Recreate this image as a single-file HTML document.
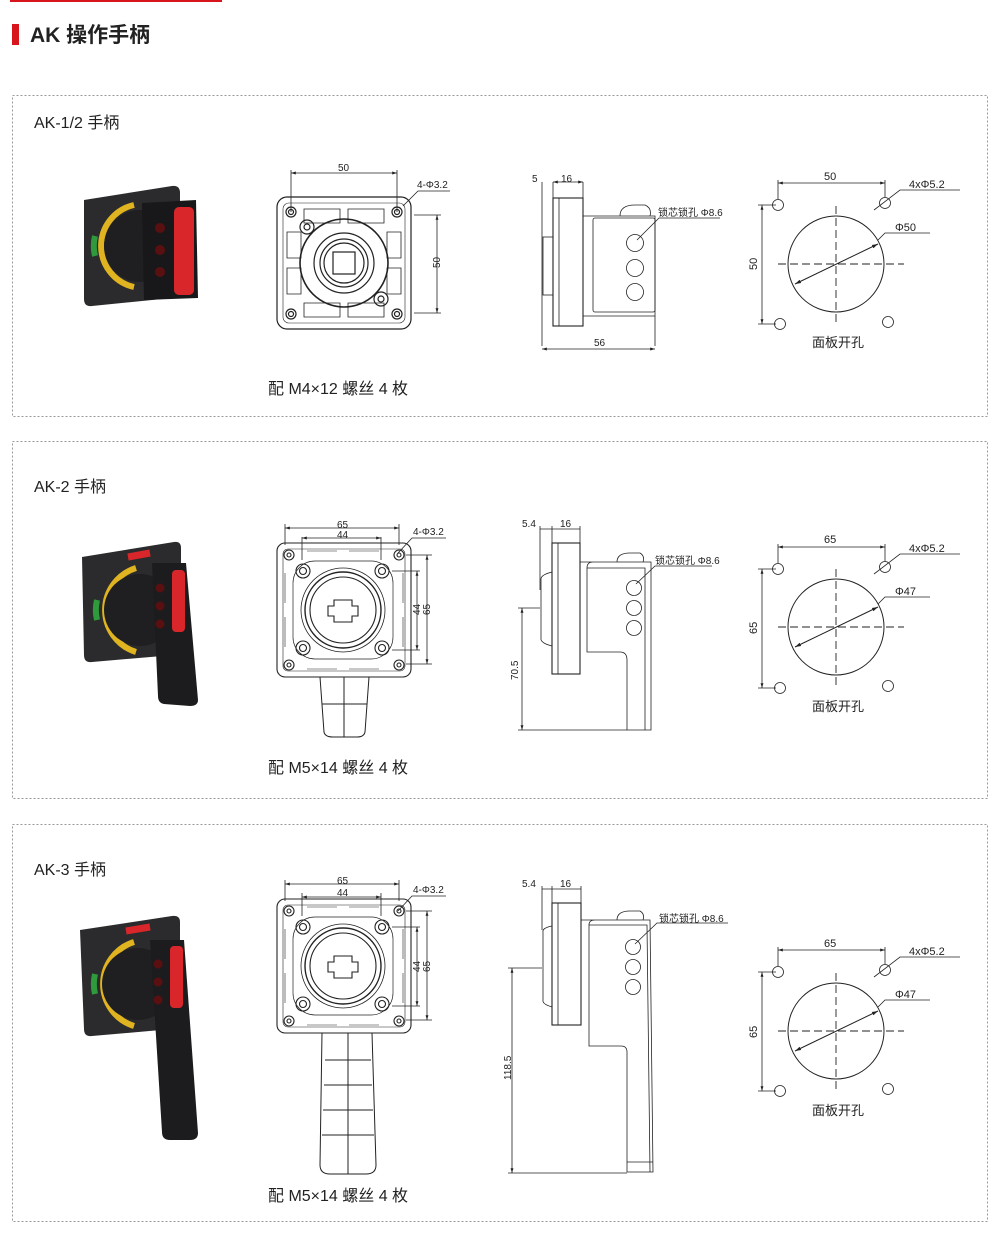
<!DOCTYPE html>
<html><head><meta charset="utf-8"><style>
html,body{margin:0;padding:0;background:#fff}
svg{display:block}
text{font-family:"Liberation Sans","Noto Sans CJK SC",sans-serif;fill:#222}
</style></head><body>
<svg width="1000" height="1248" viewBox="0 0 1000 1248" xmlns="http://www.w3.org/2000/svg">
<defs>
<marker id="a" viewBox="0 0 10 10" refX="10" refY="5" markerWidth="6" markerHeight="6" orient="auto-start-reverse"><path d="M0,2 L10,5 L0,8z" fill="#222"/></marker>
<g id="plate50" fill="none" stroke="#222" stroke-width="1.2">
<rect x="0" y="0" width="134" height="132" rx="10"/>
<rect x="6" y="6" width="122" height="120" rx="6" stroke-width="0.6"/>
<circle cx="14" cy="15" r="5"/><circle cx="14" cy="15" r="2.5"/>
<circle cx="120" cy="15" r="5"/><circle cx="120" cy="15" r="2.5"/>
<circle cx="14" cy="117" r="5"/><circle cx="14" cy="117" r="2.5"/>
<circle cx="120" cy="117" r="5"/><circle cx="120" cy="117" r="2.5"/>
<path d="M27,12 h36 v14 h-36z M71,12 h36 v14 h-36z M27,106 h36 v14 h-36z M71,106 h36 v14 h-36z M10,35 h14 v26 h-14z M10,71 h14 v26 h-14z M110,35 h14 v26 h-14z M110,71 h14 v26 h-14z" stroke-width="0.8"/>
<circle cx="67" cy="66" r="44" stroke-width="1.6"/>
<circle cx="67" cy="66" r="30"/><circle cx="67" cy="66" r="24"/><circle cx="67" cy="66" r="20"/>
<rect x="56" y="55" width="22" height="22"/>
<circle cx="30" cy="30" r="7"/><circle cx="30" cy="30" r="3"/>
<circle cx="104" cy="102" r="7"/><circle cx="104" cy="102" r="3"/>
</g>
<g id="plate65" fill="none" stroke="#222" stroke-width="1.1">
<rect x="0" y="0" width="134" height="134" rx="8"/>
<rect x="6" y="6" width="122" height="122" rx="5" stroke-width="0.6"/>
<circle cx="12" cy="12" r="5"/><circle cx="12" cy="12" r="2"/>
<circle cx="122" cy="12" r="5"/><circle cx="122" cy="12" r="2"/>
<circle cx="12" cy="122" r="5"/><circle cx="12" cy="122" r="2"/>
<circle cx="122" cy="122" r="5"/><circle cx="122" cy="122" r="2"/>
<circle cx="26" cy="28" r="7"/><circle cx="26" cy="28" r="3.5"/>
<circle cx="105" cy="28" r="7"/><circle cx="105" cy="28" r="3.5"/>
<circle cx="26" cy="105" r="7"/><circle cx="26" cy="105" r="3.5"/>
<circle cx="105" cy="105" r="7"/><circle cx="105" cy="105" r="3.5"/>
<rect x="16" y="18" width="100" height="98" rx="22" stroke-width="0.7"/>
<circle cx="66" cy="67" r="42" stroke-width="0.8"/>
<circle cx="66" cy="67" r="38" stroke-width="1.4"/>
<circle cx="66" cy="67" r="33"/>
<path d="M57,57 h18 v6 h6 v10 h-6 v6 h-18 v-6 h-6 v-10 h6z"/>
<path d="M30,8 h30 M72,8 h30 M30,126 h30 M72,126 h30 M8,30 v30 M8,74 v30 M126,30 v30 M126,74 v30" stroke-width="0.6"/>
</g>
<g id="cut" fill="none" stroke="#222" stroke-width="1">
<circle cx="0" cy="0" r="48"/>
<path d="M-58,0 H68 M0,-58 V58" stroke-dasharray="8,4" stroke-width="0.9"/>
<line x1="-41" y1="20" x2="42" y2="-20" marker-start="url(#a)" marker-end="url(#a)"/>
</g>
</defs>

<rect x="10" y="0" width="212" height="2" fill="#d8141c"/>
<rect x="12" y="24" width="7" height="21" fill="#d8141c"/>
<text x="30" y="42" font-size="21" font-weight="bold" fill="#111">AK 操作手柄</text>

<g fill="none" stroke="#999" stroke-dasharray="2,2" stroke-width="1">
<rect x="12.5" y="95.5" width="975" height="321"/>
<rect x="12.5" y="441.5" width="975" height="357"/>
<rect x="12.5" y="824.5" width="975" height="397"/>
</g>

<text x="34" y="128" font-size="16">AK-1/2 手柄</text>
<text x="34" y="492" font-size="16">AK-2 手柄</text>
<text x="34" y="875" font-size="16">AK-3 手柄</text>
<text x="268" y="394" font-size="16">配 M4×12 螺丝 4 枚</text>
<text x="268" y="773" font-size="16">配 M5×14 螺丝 4 枚</text>
<text x="268" y="1201" font-size="16">配 M5×14 螺丝 4 枚</text>

<!-- Photo 1 -->
<g>
<path d="M84,200 L172,186 Q180,185 180,193 L180,290 Q180,297 172,298 L92,306 Q84,307 84,299z" fill="#2b2b2d"/>
<path d="M134,205 A42,42 0 0 0 134,287" fill="none" stroke="#e0b320" stroke-width="6"/>
<path d="M95,236 A42,42 0 0 0 95,256" fill="none" stroke="#2e9a3c" stroke-width="6"/>
<circle cx="140" cy="246" r="36" fill="#1f1f21"/>
<path d="M142,203 L196,200 L198,298 L144,300z" fill="#18181a"/>
<rect x="174" y="207" width="20" height="88" rx="5" fill="#d9262a"/>
<circle cx="160" cy="228" r="5" fill="#5a1010"/><circle cx="160" cy="250" r="5" fill="#5a1010"/><circle cx="160" cy="272" r="5" fill="#5a1010"/>
</g>
<!-- Photo 2 -->
<g>
<path d="M82,557 L174,542 Q181,541 181,548 L181,648 Q181,654 174,655 L92,662 Q84,663 84,655z" fill="#2b2b2d"/>
<path d="M136,568 A44,44 0 0 0 136,652" fill="none" stroke="#e0b320" stroke-width="6"/>
<path d="M97,600 A44,44 0 0 0 97,620" fill="none" stroke="#2e9a3c" stroke-width="6"/>
<path d="M128,557 L150,553" stroke="#d9262a" stroke-width="7"/>
<circle cx="140" cy="610" r="36" fill="#1f1f21"/>
<path d="M152,563 L186,563 L198,700 Q198,706 190,706 L164,704 Q158,703 158,696z" fill="#1c1c1e"/>
<rect x="172" y="570" width="13" height="62" rx="4" fill="#d9262a"/>
<circle cx="160" cy="588" r="4.5" fill="#5a1010"/><circle cx="160" cy="606" r="4.5" fill="#5a1010"/><circle cx="160" cy="624" r="4.5" fill="#5a1010"/>
</g>
<!-- Photo 3 -->
<g>
<path d="M80,930 L172,916 Q180,915 180,922 L180,1022 Q180,1028 172,1029 L92,1036 Q84,1037 84,1029z" fill="#2b2b2d"/>
<path d="M134,942 A44,44 0 0 0 134,1026" fill="none" stroke="#e0b320" stroke-width="6"/>
<path d="M95,974 A44,44 0 0 0 95,994" fill="none" stroke="#2e9a3c" stroke-width="6"/>
<path d="M126,931 L150,927" stroke="#d9262a" stroke-width="7"/>
<circle cx="138" cy="984" r="36" fill="#1f1f21"/>
<path d="M150,940 L184,940 L198,1133 Q198,1140 190,1140 L170,1140 Q162,1140 162,1132z" fill="#1c1c1e"/>
<rect x="170" y="946" width="13" height="62" rx="4" fill="#d9262a"/>
<circle cx="158" cy="964" r="4.5" fill="#5a1010"/><circle cx="158" cy="982" r="4.5" fill="#5a1010"/><circle cx="158" cy="1000" r="4.5" fill="#5a1010"/>
</g>

<g stroke="#222" stroke-width="0.8" fill="none">
<use href="#plate50" x="277" y="197"/>
<path d="M291,212 V170 M397,212 V170 M414,215 H441 M414,313 H441"/>
<line x1="291" y1="173" x2="397" y2="173" marker-start="url(#a)" marker-end="url(#a)"/>
<line x1="437" y1="215" x2="437" y2="313" marker-start="url(#a)" marker-end="url(#a)"/>
<path d="M450,191 H418 L403,206"/>
<rect x="553" y="198" width="30" height="128" stroke-width="1.1"/>
<line x1="559" y1="198" x2="559" y2="326"/>
<rect x="543" y="237" width="10" height="58"/>
<path d="M583,216 H655 V316 H583"/>
<rect x="593" y="218" width="62" height="94" rx="2"/>
<path d="M620,216 Q620,205 635,205 H645 Q652,208 650,216"/>
<circle cx="635" cy="243" r="8.5"/><circle cx="635" cy="268" r="8.5"/><circle cx="635" cy="292" r="8.5"/>
<path d="M720,218 H659 L637,240"/>
<path d="M542,182 V346 M553,182 V198 M583,182 V198 M655,316 V346"/>
<line x1="553" y1="182" x2="583" y2="182" marker-start="url(#a)" marker-end="url(#a)"/>
<line x1="542" y1="349" x2="655" y2="349" marker-start="url(#a)" marker-end="url(#a)"/>
<use href="#cut" x="836" y="264"/>
<circle cx="778" cy="205" r="5.5"/><circle cx="885" cy="203" r="5.5"/><circle cx="780" cy="324" r="5.5"/><circle cx="888" cy="322" r="5.5"/>
<path d="M778,199 V180 M885,197 V180 M776,205 H758 M776,324 H758"/>
<line x1="778" y1="183" x2="885" y2="183" marker-start="url(#a)" marker-end="url(#a)"/>
<line x1="762" y1="205" x2="762" y2="324" marker-start="url(#a)" marker-end="url(#a)"/>
<path d="M960,190 H900 L874,210 M930,233 H885 L878,240"/>

<use href="#plate65" x="277" y="543"/>
<path d="M320,677 L324,732 Q325,737 333,737 H357 Q364,737 365,732 L369,677 M344,677 V737 M322,704 H367" stroke-width="1"/>
<path d="M285,545 V524 M399,545 V524 M302,560 V537 M381,560 V537 M406,555 H432 M392,571 H420 M392,650 H420 M406,664 H432"/>
<line x1="285" y1="528" x2="399" y2="528" marker-start="url(#a)" marker-end="url(#a)"/>
<line x1="302" y1="538" x2="381" y2="538" marker-start="url(#a)" marker-end="url(#a)"/>
<line x1="427" y1="555" x2="427" y2="664" marker-start="url(#a)" marker-end="url(#a)"/>
<line x1="417" y1="571" x2="417" y2="650" marker-start="url(#a)" marker-end="url(#a)"/>
<path d="M446,538 H412 L398,553"/>
<rect x="552" y="543" width="28" height="131" stroke-width="1.1"/>
<line x1="558" y1="543" x2="558" y2="674"/>
<path d="M541,580 Q540,575 552,572 V646 Q540,643 541,638z"/>
<path d="M580,562 H651 V730 H627 V660 Q627,652 620,652 H587 V568 Q587,562 593,562"/>
<path d="M587,568 H645 V730"/>
<path d="M617,562 Q617,553 630,553 H640 Q645,556 643,562"/>
<circle cx="634" cy="588" r="7.5"/><circle cx="634" cy="608" r="7.5"/><circle cx="634" cy="628" r="7.5"/>
<path d="M712,566 H655 L636,584"/>
<path d="M540,526 V590 M552,526 V543 M580,526 V543 M518,608 H540 M518,730 H627"/>
<line x1="540" y1="529" x2="580" y2="529"/>
<line x1="522" y1="608" x2="522" y2="730" marker-start="url(#a)" marker-end="url(#a)"/>
<use href="#cut" x="836" y="627"/>
<circle cx="778" cy="569" r="5.5"/><circle cx="885" cy="567" r="5.5"/><circle cx="780" cy="688" r="5.5"/><circle cx="888" cy="686" r="5.5"/>
<path d="M778,563 V544 M885,561 V544 M776,569 H758 M776,688 H758"/>
<line x1="778" y1="547" x2="885" y2="547" marker-start="url(#a)" marker-end="url(#a)"/>
<line x1="762" y1="569" x2="762" y2="688" marker-start="url(#a)" marker-end="url(#a)"/>
<path d="M960,554 H900 L874,574 M930,597 H885 L878,604"/>

<use href="#plate65" x="277" y="899"/>
<path d="M322,1033 L320,1165 Q320,1174 330,1174 H366 Q376,1174 376,1165 L372,1033 M348,1033 V1174 M325,1060 H371 M324,1085 H372 M323,1110 H373 M322,1135 H374" stroke-width="1"/>
<path d="M285,901 V880 M399,901 V880 M302,916 V893 M381,916 V893 M406,911 H432 M392,927 H420 M392,1006 H420 M406,1020 H432"/>
<line x1="285" y1="884" x2="399" y2="884" marker-start="url(#a)" marker-end="url(#a)"/>
<line x1="302" y1="897" x2="381" y2="897" marker-start="url(#a)" marker-end="url(#a)"/>
<line x1="427" y1="911" x2="427" y2="1020" marker-start="url(#a)" marker-end="url(#a)"/>
<line x1="417" y1="927" x2="417" y2="1006" marker-start="url(#a)" marker-end="url(#a)"/>
<path d="M446,896 H412 L398,911"/>
<rect x="552" y="903" width="29" height="122" stroke-width="1.1"/>
<line x1="558" y1="903" x2="558" y2="1025"/>
<path d="M543,932 Q542,928 552,926 V1007 Q542,1004 543,1000z"/>
<path d="M581,920 H650 L653,1172 H627 V1052 Q627,1046 621,1046 H589 V925 Q589,920 595,920"/>
<path d="M589,925 H647 L650,1172 M627,1162 H653"/>
<path d="M617,920 Q617,911 630,911 H640 Q645,914 643,920"/>
<circle cx="633" cy="947" r="7.5"/><circle cx="633" cy="967" r="7.5"/><circle cx="633" cy="987" r="7.5"/>
<path d="M728,923 H657 L635,944"/>
<path d="M542,886 V930 M552,886 V903 M581,886 V903 M508,968 H542 M508,1173 H627"/>
<line x1="542" y1="889" x2="581" y2="889"/>
<line x1="512" y1="968" x2="512" y2="1173" marker-start="url(#a)" marker-end="url(#a)"/>
<use href="#cut" x="836" y="1031"/>
<circle cx="778" cy="972" r="5.5"/><circle cx="885" cy="970" r="5.5"/><circle cx="780" cy="1091" r="5.5"/><circle cx="888" cy="1089" r="5.5"/>
<path d="M778,966 V947 M885,964 V947 M776,972 H758 M776,1091 H758"/>
<line x1="778" y1="950" x2="885" y2="950" marker-start="url(#a)" marker-end="url(#a)"/>
<line x1="762" y1="972" x2="762" y2="1091" marker-start="url(#a)" marker-end="url(#a)"/>
<path d="M960,957 H900 L874,977 M930,1000 H885 L878,1007"/>
</g>

<g font-size="10">
<text x="338" y="171">50</text><text x="417" y="188">4-Φ3.2</text>
<text x="440" y="268" transform="rotate(-90 440 268)">50</text>
<text x="532" y="182">5</text><text x="561" y="182">16</text><text x="594" y="346">56</text>
<text x="658" y="216" fill="#555">锁芯锁孔 Φ8.6</text>
<text x="337" y="528">65</text><text x="337" y="538">44</text><text x="413" y="535">4-Φ3.2</text>
<text x="430" y="615" transform="rotate(-90 430 615)">65</text><text x="420" y="615" transform="rotate(-90 420 615)">44</text>
<text x="522" y="527">5.4</text><text x="560" y="527">16</text>
<text x="518" y="680" transform="rotate(-90 518 680)">70.5</text>
<text x="655" y="564" fill="#555">锁芯锁孔 Φ8.6</text>
<text x="337" y="884">65</text><text x="337" y="896">44</text><text x="413" y="893">4-Φ3.2</text>
<text x="430" y="972" transform="rotate(-90 430 972)">65</text><text x="420" y="972" transform="rotate(-90 420 972)">44</text>
<text x="522" y="887">5.4</text><text x="560" y="887">16</text>
<text x="511" y="1080" transform="rotate(-90 511 1080)">118.5</text>
<text x="659" y="922" fill="#555">锁芯锁孔 Φ8.6</text>
</g>
<g font-size="11">
<text x="824" y="180">50</text><text x="909" y="188">4xΦ5.2</text><text x="895" y="231">Φ50</text>
<text x="757" y="270" transform="rotate(-90 757 270)">50</text>
<text x="824" y="543">65</text><text x="909" y="552">4xΦ5.2</text><text x="895" y="595">Φ47</text>
<text x="757" y="634" transform="rotate(-90 757 634)">65</text>
<text x="824" y="947">65</text><text x="909" y="955">4xΦ5.2</text><text x="895" y="998">Φ47</text>
<text x="757" y="1038" transform="rotate(-90 757 1038)">65</text>
</g>
<g font-size="13" text-anchor="middle">
<text x="838" y="347">面板开孔</text><text x="838" y="711">面板开孔</text><text x="838" y="1115">面板开孔</text>
</g>
</svg>
</body></html>
